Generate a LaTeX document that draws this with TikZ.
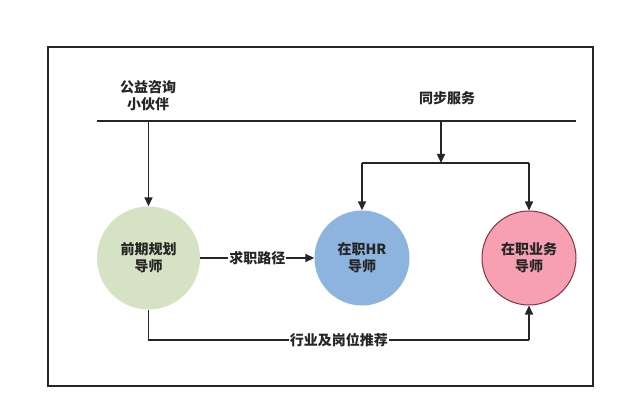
\documentclass[tikz,border=0pt]{standalone}
\usepackage{fontspec}
\setmainfont{Noto Sans CJK SC}
\usetikzlibrary{arrows.meta}
\begin{document}
\begin{tikzpicture}[x=1pt,y=-1pt,
  ln/.style={line width=1.5pt,draw=black!85},
  ar/.style={ln,-{Triangle[length=9pt,width=8pt]}},
  txt/.style={font=\bfseries\fontsize{14}{17}\selectfont,text=black!85,align=center,inner sep=1pt},
  circ/.style={circle,minimum size=#1,inner sep=0pt,txt}]
\useasboundingbox (0,0) rectangle (639,419);
\fill[white] (0,0) rectangle (639,419);
\draw[line width=1.2pt,black!85] (48,47) rectangle (593,386);
\coordinate (L1) at (97,121);
\coordinate (L2) at (576,121);
\draw[ln] (L1) -- (L2);
\node[txt] (pt) at (148,96) {公益咨询\\小伙伴};
\node[txt] (sync) at (447,98) {同步服务};
\node[circ=103pt,fill={rgb,255:red,214;green,226;blue,196}] (c1) at (148.5,258) {前期规划\\导师};
\node[circ=95pt,fill={rgb,255:red,140;green,180;blue,222}] (c2) at (362,258) {在职HR\\导师};
\node[circ=94pt,fill={rgb,255:red,246;green,160;blue,178},draw={rgb,255:red,130;green,50;blue,70},line width=1pt] (c3) at (529,258) {在职业务\\导师};
\coordinate (t1) at (148.5,121);
\draw[ar] (t1) -- (c1);
\coordinate (t2) at (441,121);
\coordinate (b2) at (441,163);
\draw[ar] (t2) -- (b2);
\coordinate (bl) at (362,163);
\coordinate (br) at (529,163);
\draw[ln] (bl) -- (br);
\draw[ar] (bl) -- (c2);
\draw[ar] (br) -- (c3);
\draw[ar] (c1) -- node[txt,fill=white,pos=0.5]{求职路径} (c2);
\coordinate (d1) at (148.5,340);
\coordinate (d2) at (529,340);
\draw[ln] (c1.south) -- (d1) -- node[txt,fill=white,pos=0.5]{行业及岗位推荐} (d2);
\draw[ar] (d2) -- (c3.south);
\end{tikzpicture}
\end{document}
